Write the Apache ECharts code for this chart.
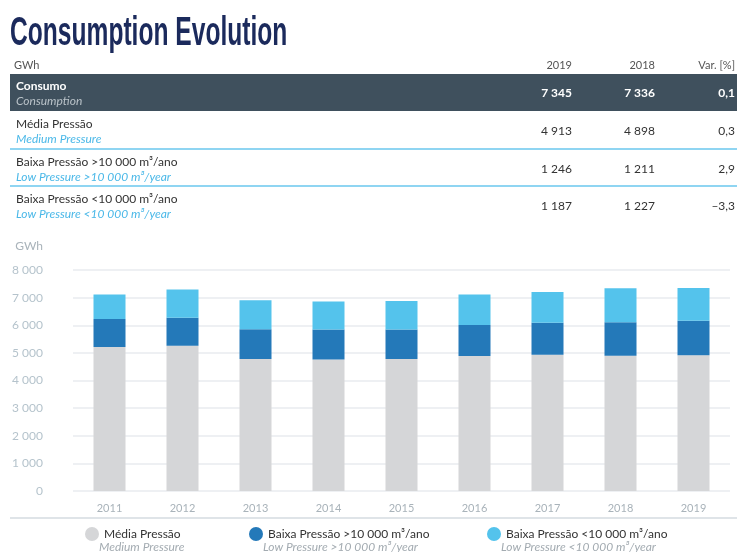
<!DOCTYPE html>
<html>
<head>
<meta charset="utf-8">
<script src="https://cdn.jsdelivr.net/npm/echarts@6/dist/echarts.min.js"></script>
<style>
  html, body { margin: 0; padding: 0; background: #fff; }
  #main { width: 737px; height: 552px; }
</style>
</head>
<body>
<div id="main"></div>
<script>
// chart data (GWh)
const years = ['2011', '2012', '2013', '2014', '2015', '2016', '2017', '2018', '2019'];
const mediaPressao = [5210, 5260, 4780, 4760, 4780, 4890, 4930, 4898, 4913];
const baixaAcima = [1020, 1015, 1075, 1085, 1065, 1115, 1160, 1211, 1246];
const baixaAbaixo = [885, 1015, 1050, 1015, 1035, 1110, 1110, 1227, 1187];

// legend / series names
const seriesPt = ['Média Pressão', 'Baixa Pressão >10 000 m³/ano', 'Baixa Pressão <10 000 m³/ano'];
const seriesEn = ['Medium Pressure', 'Low Pressure >10 000 m³/year', 'Low Pressure <10 000 m³/year'];
const colors = ['#d5d6d8', '#2479b9', '#54c3ec'];

// table
const tableHead = ['2019', '2018', 'Var. [%]'];
const rowsPt = ['Consumo', 'Média Pressão', 'Baixa Pressão >10 000 m³/ano', 'Baixa Pressão <10 000 m³/ano'];
const rowsEn = ['Consumption', 'Medium Pressure', 'Low Pressure >10 000 m³/year', 'Low Pressure <10 000 m³/year'];
const val2019 = ['7 345', '4 913', '1 246', '1 187'];
const val2018 = ['7 336', '4 898', '1 211', '1 227'];
const varPct = ['0,1', '0,3', '2,9', '–3,3'];

const FONT = 'Lato, "Open Sans", sans-serif';
const colX = [572, 655, 735];

function fmt(v) {
  return String(v).replace(/\B(?=(\d{3})+(?!\d))/g, ' ');
}

// header + table built as graphic elements
const graphic = [];
graphic.push({
  type: 'text', x: 10, y: 13, scaleX: 0.6,
  style: { text: 'Consumption Evolution', font: 'bold 41px "Liberation Sans Narrow", sans-serif',
    fill: '#1b2a5c', textVerticalAlign: 'top' }
});
graphic.push({ type: 'text', x: 14, y: 65,
  style: { text: 'GWh', font: '11px ' + FONT, fill: '#555', textVerticalAlign: 'middle' } });
tableHead.forEach(function (h, i) {
  graphic.push({ type: 'text', x: colX[i], y: 65,
    style: { text: h, font: '11px ' + FONT, fill: '#555', textAlign: 'right', textVerticalAlign: 'middle' } });
});
graphic.push({ type: 'rect', shape: { x: 10, y: 74, width: 727, height: 37 }, style: { fill: '#3f505d' } });
const rowTop = [74, 112, 150, 187];
rowsPt.forEach(function (r, i) {
  const dark = i === 0;
  const top = rowTop[i];
  graphic.push({ type: 'text', x: 16, y: top + 12,
    style: { text: r, font: (dark ? 'bold ' : '') + '12px ' + FONT, fill: dark ? '#fff' : '#333', textVerticalAlign: 'middle' } });
  graphic.push({ type: 'text', x: 16, y: top + 27,
    style: { text: rowsEn[i], font: 'italic 12px ' + FONT, fill: dark ? '#b9c2c8' : '#4ab8e8', textVerticalAlign: 'middle' } });
  [val2019[i], val2018[i], varPct[i]].forEach(function (v, j) {
    graphic.push({ type: 'text', x: colX[j], y: top + 19,
      style: { text: v, font: (dark ? 'bold ' : '') + '12px ' + FONT, fill: dark ? '#fff' : '#333',
        textAlign: 'right', textVerticalAlign: 'middle' } });
  });
});
[149, 186].forEach(function (y) {
  graphic.push({ type: 'line', shape: { x1: 10, y1: y, x2: 737, y2: y }, style: { stroke: '#8fd5f2', lineWidth: 2 } });
});
// separator under x axis
graphic.push({ type: 'line', shape: { x1: 10, y1: 518, x2: 737, y2: 518 }, style: { stroke: '#dfe4e8', lineWidth: 2 } });
// english legend sub-lines
const legendX = [80, 244, 482];
seriesEn.forEach(function (t, i) {
  graphic.push({ type: 'text', x: legendX[i] + 19, y: 547,
    style: { text: t, font: 'italic 12px ' + FONT, fill: '#a3abb1', textVerticalAlign: 'middle' } });
});

const seriesData = [mediaPressao, baixaAcima, baixaAbaixo];
const chart = echarts.init(document.getElementById('main'));
chart.setOption({
  animation: false,
  textStyle: { fontFamily: FONT },
  graphic: graphic,
  grid: { left: 73, right: 7, top: 270, bottom: 61 },
  legend: seriesPt.map(function (n, i) {
    return {
      data: [n], left: legendX[i], top: 522, icon: 'circle', itemWidth: 14, itemHeight: 14,
      textStyle: { color: '#333', fontSize: 12, fontFamily: FONT }
    };
  }),
  xAxis: {
    type: 'category', data: years,
    axisLine: { show: false }, axisTick: { show: false },
    axisLabel: { color: '#a9b3ba', fontSize: 11, margin: 12 }
  },
  yAxis: {
    type: 'value', min: 0, max: 8000, interval: 1000,
    name: 'GWh', nameGap: 18,
    nameTextStyle: { color: '#a9b3ba', fontSize: 12, align: 'right', padding: [0, 30, 0, 0] },
    axisLabel: { color: '#b5c3cc', fontSize: 12, margin: 30, formatter: fmt },
    splitLine: { lineStyle: { color: '#eef0f3', width: 2 } }
  },
  series: seriesPt.map(function (n, i) {
    return { name: n, type: 'bar', stack: 'total', barWidth: 32, data: seriesData[i], itemStyle: { color: colors[i] } };
  })
});
</script>
</body>
</html>
